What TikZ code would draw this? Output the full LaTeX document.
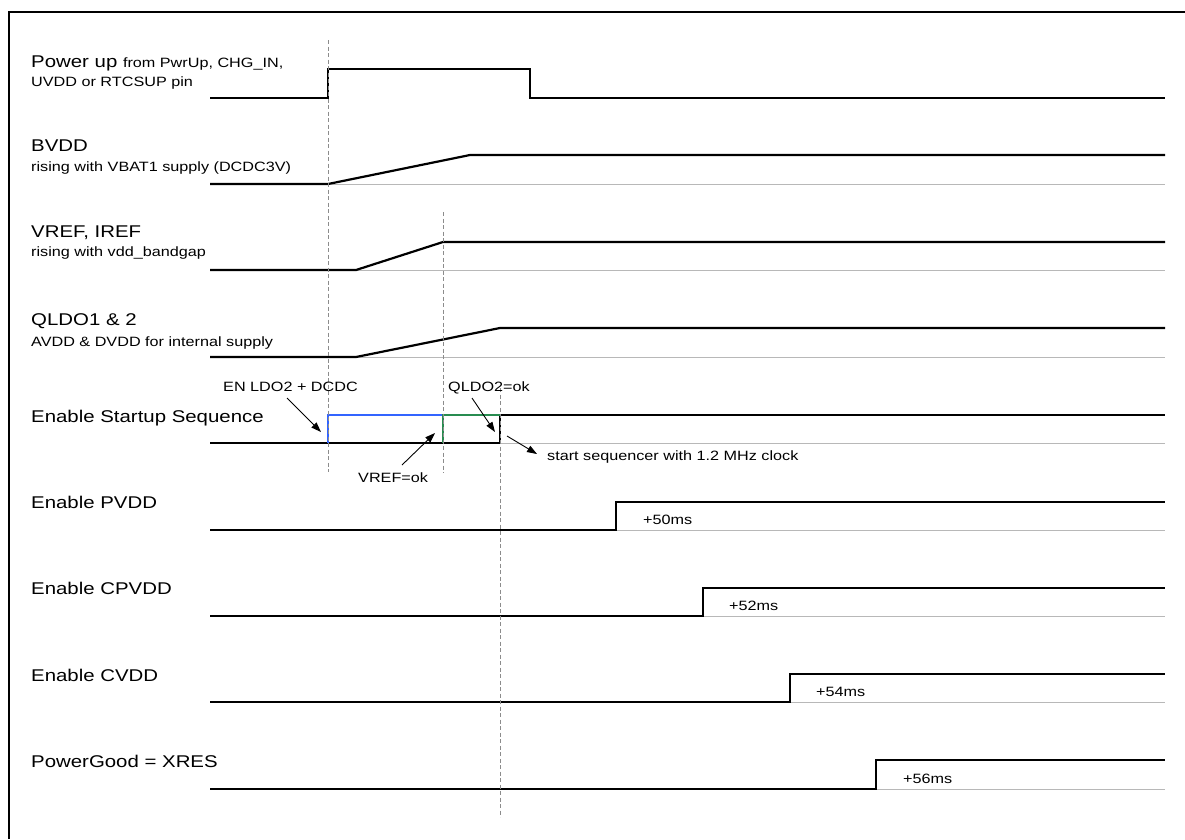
\documentclass[tikz,border=0pt]{standalone}
\usepackage{fontspec}
\setmainfont{Liberation Sans}[FakeStretch=1.2]
\usetikzlibrary{arrows.meta}
\definecolor{enblue}{RGB}{50,100,255}
\definecolor{engreen}{RGB}{40,140,80}
\begin{document}
\begin{tikzpicture}[x=1pt,y=-1pt,
  sig/.style={line width=2.2pt, line join=miter},
  baseline/.style={draw=black!28, line width=1pt},
  guide/.style={draw=black!45, line width=0.9pt, dash pattern=on 4pt off 2.5pt},
  big/.style={anchor=base west, inner sep=0pt, font=\fontsize{17}{20}\selectfont},
  small/.style={anchor=base west, inner sep=0pt, font=\fontsize{13.5}{16}\selectfont},
  note/.style={-{Triangle[length=10pt,width=7pt]}, line width=0.9pt}]
\useasboundingbox (0,0) rectangle (1185,839);
% frame
\draw[line width=2pt] (9,839) -- (9,12) -- (1185,12);

% signal labels
\node[big] (lpwr) at (31,67) {Power up {\fontsize{13.5}{16}\selectfont from PwrUp, CHG\_IN,}};
\node[small] (lpwr2) at (31,86) {UVDD or RTCSUP pin};
\node[big] (lbvdd) at (31,151) {BVDD};
\node[small] (lbvdd2) at (31,171) {rising with VBAT1 supply (DCDC3V)};
\node[big] (lvref) at (31,237) {VREF, IREF};
\node[small] (lvref2) at (31,256) {rising with vdd\_bandgap};
\node[big] (lqldo) at (31,325) {QLDO1 \& 2};
\node[small] (lqldo2) at (31,346) {AVDD \& DVDD for internal supply};
\node[big] (lstart) at (31,422) {Enable Startup Sequence};
\node[big] (lpvdd) at (31,508) {Enable PVDD};
\node[big] (lcpvdd) at (31,594) {Enable CPVDD};
\node[big] (lcvdd) at (31,681) {Enable CVDD};
\node[big] (lpg) at (31,767) {PowerGood = XRES};

% gray baselines
\draw[baseline] (328,184) -- (1165,184);
\draw[baseline] (356,270) -- (1165,270);
\draw[baseline] (356,357) -- (1165,357);
\draw[baseline] (500,443) -- (1165,443);
\draw[baseline] (616,530) -- (1165,530);
\draw[baseline] (703,616) -- (1165,616);
\draw[baseline] (790,702) -- (1165,702);
\draw[baseline] (876,789) -- (1165,789);

% waveforms
\draw[sig] (210,98) -- (328,98) -- (328,69) -- (530,69) -- (530,98) -- (1165,98);
\draw[sig] (210,184) -- (328,184) -- (470,155) -- (1165,155);
\draw[sig] (210,270) -- (356,270) -- (443,242) -- (1165,242);
\draw[sig] (210,357) -- (356,357) -- (500,328) -- (1165,328);
\draw[sig] (210,443) -- (500,443) -- (500,415) -- (1165,415);
\draw[sig, enblue] (328,443) -- (328,415) -- (443,415);
\draw[sig, engreen] (443,443) -- (443,415) -- (500,415);
\draw[sig] (210,530) -- (616,530) -- (616,502) -- (1165,502);
\draw[sig] (210,616) -- (703,616) -- (703,588) -- (1165,588);
\draw[sig] (210,702) -- (790,702) -- (790,674) -- (1165,674);
\draw[sig] (210,789) -- (876,789) -- (876,760) -- (1165,760);

% delay labels
\node[small] (d50) at (643,524) {+50ms};
\node[small] (d52) at (729,610) {+52ms};
\node[small] (d54) at (816,696) {+54ms};
\node[small] (d56) at (903,783) {+56ms};

% dashed guides
\draw[guide] (328,40) -- (328,472);
\draw[guide] (443,212) -- (443,473);
\draw[guide] (500,388) -- (500,817);

% annotations
\node[small] (nen) at (223,391) {EN LDO2 + DCDC};
\node[small] (nql) at (448,391) {QLDO2=ok};
\node[small] (nvr) at (358,482) {VREF=ok};
\node[small] (nss) at (547,460) {start sequencer with 1.2 MHz clock};
\coordinate (aen0) at (287,398);
\coordinate (aen1) at (321,432);
\coordinate (aql0) at (472,398);
\coordinate (aql1) at (495,432);
\coordinate (avr0) at (402,465);
\coordinate (avr1) at (435,433);
\coordinate (ass0) at (507,436);
\coordinate (ass1) at (537,454);
\draw[note] (aen0) -- (aen1);
\draw[note] (aql0) -- (aql1);
\draw[note] (avr0) -- (avr1);
\draw[note] (ass0) -- (ass1);
\end{tikzpicture}
\end{document}
